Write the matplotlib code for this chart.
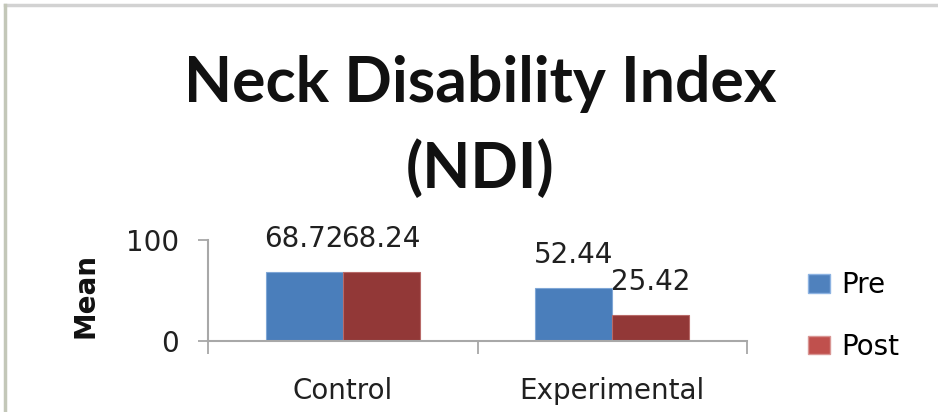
import numpy as np
import matplotlib.pyplot as plt
from matplotlib.lines import Line2D
from matplotlib.patches import Patch

# data
groups = ['Control', 'Experimental']
pre = [68.72, 52.44]
post = [68.24, 25.42]
pre_labels = ['68.72', '52.44']
post_labels = ['68.24', '25.42']
series = ['Pre', 'Post']

blue = '#4A7EBB'
red = '#923837'
blue_leg = '#4F81BD'
red_leg = '#C0504D'

fig = plt.figure(figsize=(9.38, 4.12), dpi=100)
ax = fig.add_axes([208/938, 71/412, 539/938, 101/412])

x = np.arange(len(groups))
w = 0.286
ax.bar(x - w/2, pre, w, color=blue, edgecolor='#7FA6D6', lw=0.8)
ax.bar(x + w/2, post, w, color=red, edgecolor='#B86A68', lw=0.8)

for i in range(len(groups)):
    ax.annotate(pre_labels[i], (x[i] - w/2, pre[i]), xytext=(0, 18),
                textcoords='offset points', ha='center', va='baseline',
                fontsize=20, color='#202020')
    ax.annotate(post_labels[i], (x[i] + w/2, post[i]), xytext=(0, 18),
                textcoords='offset points', ha='center', va='baseline',
                fontsize=20, color='#202020')

ax.set_xlim(-0.5, 1.5)
ax.set_ylim(0, 100)
ax.set_yticks([0, 100])
ax.tick_params(axis='y', labelsize=20, length=7, width=1.2, color='#A0A0A0',
               direction='out', pad=14, labelcolor='#202020')
ax.set_xticks([-0.5, 0.5, 1.5])
ax.set_xticklabels([])
ax.tick_params(axis='x', length=9, width=1.2, color='#A0A0A0', direction='out')
ax.set_xticks(x, minor=True)
ax.set_xticklabels(groups, minor=True, fontsize=20, color='#202020')
ax.tick_params(axis='x', which='minor', length=0, pad=26)

for s in ['top', 'right']:
    ax.spines[s].set_visible(False)
for s in ['left', 'bottom']:
    ax.spines[s].set_color('#A8A8A8')
    ax.spines[s].set_linewidth(1.5)

fig.text(85/938, 1 - 295/412, 'Mean', rotation=90, ha='center', va='center',
         fontsize=20, fontweight='bold', color='#111111')

fig.text(480/938, 1 - 127/412, 'Neck Disability Index\n(NDI)', ha='center',
         va='center', fontsize=45, fontweight='bold', linespacing=1.55,
         family=['Lato', 'DejaVu Sans'], color='#111111')

handles = [Patch(facecolor=blue_leg, edgecolor='#8DB3E2'),
           Patch(facecolor=red_leg, edgecolor='#D99694')]
fig.legend(handles, series, loc='center left',
           bbox_to_anchor=(783/938, 1 - 316/412), frameon=False,
           fontsize=20, handlelength=0.8, handleheight=0.65,
           handletextpad=0.4, labelspacing=1.2)

# outer chart frame (top and left edges visible)
fig.add_artist(Line2D([5/938, 1], [1 - 5/412, 1 - 5/412], color='#D2D2D2', lw=2.5))
fig.add_artist(Line2D([5/938, 5/938], [0, 1 - 5/412], color='#C3C7B8', lw=2.5))

fig.savefig('out.png', dpi=100)
